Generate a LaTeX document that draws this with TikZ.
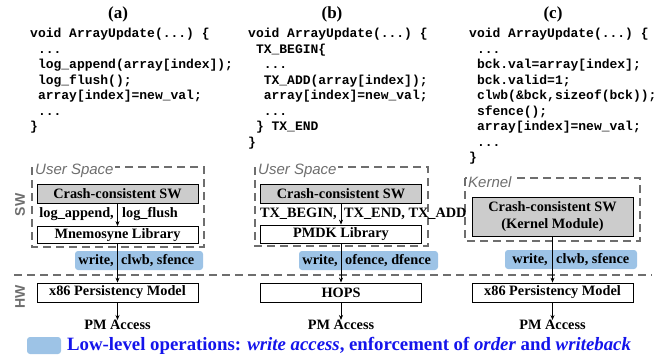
\documentclass[tikz,border=0pt]{standalone}
\usepackage{fontspec}
\setmainfont{Liberation Serif}
\setsansfont{Liberation Sans}
\setmonofont{Liberation Mono}
\usepackage{tikz}
\usetikzlibrary{arrows.meta,positioning}
\usepackage{xcolor}
\definecolor{bandcolor}{RGB}{157, 195, 230}
\definecolor{spacecolor}{RGB}{110, 110, 110}
\definecolor{legendblue}{RGB}{20, 20, 235}

\begin{document}
\begin{tikzpicture}[
    x=1pt, y=-1pt,
    box/.style={rectangle, draw, line width=0.8pt, minimum width=161pt, minimum height=19pt, inner sep=0pt, align=center, font=\fontsize{14.3}{16.5}\selectfont\bfseries},
    swbox/.style={box, fill=black!20},
    band/.style={rectangle, rounded corners=3pt, fill=bandcolor, inner sep=0pt, minimum height=19pt},
    lbl/.style={inner sep=0pt, font=\fontsize{14.3}{16.5}\selectfont\bfseries},
    code/.style={anchor=north west, inner sep=0pt, align=left, font=\fontsize{13}{15.5}\selectfont\ttfamily\bfseries},
    title/.style={font=\fontsize{17}{20}\selectfont\bfseries},
    space/.style={draw=spacecolor, dash pattern=on 8pt off 5pt, line width=1.6pt},
    spacelbl/.style={anchor=north west, fill=white, inner sep=1pt, text=spacecolor, font=\fontsize{15}{17}\selectfont\sffamily\itshape},
    layer/.style={text=spacecolor, rotate=90, font=\fontsize{14}{16}\selectfont\sffamily\bfseries},
    flow/.style={-{Stealth[length=5pt, width=4pt]}, line width=0.8pt},
]
    \useasboundingbox (0,0) rectangle (660,357);

    % Titles
    \node[title] (ta) at (118,14) {(a)};
    \node[title] (tb) at (332,14) {(b)};
    \node[title] (tc) at (553,14) {(c)};

    % Code snippets
    \node[code] (code_a) at (30,28) {void ArrayUpdate(...) \{\\
~...\\
~log\_append(array[index]);\\
~log\_flush();\\
~array[index]=new\_val;\\
~...\\
\}};
    \node[code] (code_b) at (248,28) {void ArrayUpdate(...) \{\\
~TX\_BEGIN\{\\
~~...\\
~~TX\_ADD(array[index]);\\
~~array[index]=new\_val;\\
~~...\\
~\} TX\_END\\
\}};
    \node[code] (code_c) at (469,28) {void ArrayUpdate(...) \{\\
~...\\
~bck.val=array[index];\\
~bck.valid=1;\\
~clwb(\&bck,sizeof(bck));\\
~sfence();\\
~array[index]=new\_val;\\
~...\\
\}};

    % Privilege domains
    \draw[space] (32,167) rectangle (204,247);
    \node[spacelbl] (us_a) at (34,163) {User Space};
    \draw[space] (255,167) rectangle (428,246);
    \node[spacelbl] (us_b) at (257,163) {User Space};
    \draw[space] (465,178) rectangle (640,241);
    \node[spacelbl] (kern_c) at (467,175) {Kernel};

    % SW / HW split
    \draw[space] (14,275) -- (652,275);
    \node[layer] (sw) at (20,205) {SW};
    \node[layer] (hw) at (20,297) {HW};

    % (a) Mnemosyne
    \node[swbox] (sw_a) at (117.5,193.5) {Crash-consistent SW};
    \node[box, minimum height=17pt] (lib_a) at (117.5,235) {Mnemosyne Library};
    \node[band, minimum width=128pt] (band_a) at (139,260.5) {};
    \node[box] (pm_a) at (117.5,292.5) {x86 Persistency Model};
    \node[lbl] (acc_a) at (117.5,325) {PM Access};
    \node[lbl, anchor=base east] (api_a1) at (114,217) {log\_append,};
    \node[lbl, anchor=base west] (api_a2) at (122,217) {log\_flush};
    \node[lbl, anchor=east] (op_a1) at (114,260.5) {write,};
    \node[lbl, anchor=west] (op_a2) at (121,260.5) {clwb, sfence};

    % (b) PMDK
    \node[swbox] (sw_b) at (341,193.5) {Crash-consistent SW};
    \node[box, minimum height=18pt] (lib_b) at (341,234) {PMDK Library};
    \node[band, minimum width=139pt] (band_b) at (368.5,260.5) {};
    \node[box] (pm_b) at (341,292.5) {HOPS};
    \node[lbl] (acc_b) at (341,325) {PM Access};
    \node[lbl, anchor=base east] (api_b1) at (337,217) {TX\_BEGIN,};
    \node[lbl, anchor=base west] (api_b2) at (344,217) {TX\_END, TX\_ADD};
    \node[lbl, anchor=east] (op_b1) at (338,260.5) {write,};
    \node[lbl, anchor=west] (op_b2) at (345,260.5) {ofence, dfence};

    % (c) kernel module
    \node[swbox, minimum height=39pt] (sw_c) at (552.5,216.5) {Crash-consistent SW\\(Kernel Module)};
    \node[band, minimum width=132pt] (band_c) at (571,259.5) {};
    \node[box] (pm_c) at (552.5,292.5) {x86 Persistency Model};
    \node[lbl] (acc_c) at (552.5,325) {PM Access};
    \node[lbl, anchor=east] (op_c1) at (548,259.5) {write,};
    \node[lbl, anchor=west] (op_c2) at (556,259.5) {clwb, sfence};

    % Flow down the stack
    \draw[flow] (sw_a) -- (lib_a);
    \draw[flow] (lib_a) -- (pm_a);
    \draw[flow] (pm_a) -- (acc_a);
    \draw[flow] (sw_b) -- (lib_b);
    \draw[flow] (lib_b) -- (pm_b);
    \draw[flow] (pm_b) -- (acc_b);
    \draw[flow] (sw_c) -- (pm_c);
    \draw[flow] (pm_c) -- (acc_c);

    % Legend
    \node[band, minimum width=34pt, minimum height=17pt] (key) at (44,345.5) {};
    \node[anchor=west, inner sep=0pt, text=legendblue, font=\fontsize{18.8}{20}\selectfont\bfseries] (keytext) at (67,345.5)
        {Low-level operations: \textit{write access}, enforcement of \textit{order} and \textit{writeback}};
\end{tikzpicture}
\end{document}
